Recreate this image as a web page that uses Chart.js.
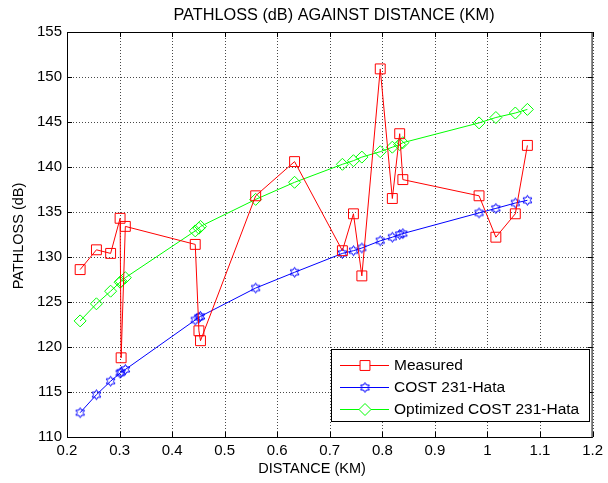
<!DOCTYPE html>
<html>
<head>
<meta charset="utf-8">
<script src="https://cdn.jsdelivr.net/npm/chart.js@4/dist/chart.umd.min.js"></script>
<style>
html,body{margin:0;padding:0;background:#fff;}
#wrap{width:608px;height:483px;position:relative;}
</style>
</head>
<body>
<div id="wrap"><canvas id="c" width="608" height="483"></canvas></div>
<script>
// ---- data ----
const distanceKm = [0.225, 0.256, 0.283, 0.301, 0.303, 0.311, 0.444, 0.451, 0.454, 0.559, 0.633, 0.724, 0.745, 0.761, 0.796, 0.819, 0.833, 0.839, 0.984, 1.016, 1.053, 1.076];
const measured = [128.6, 130.8, 130.4, 134.3, 118.8, 133.4, 131.4, 121.8, 120.7, 136.8, 140.6, 130.7, 134.8, 127.9, 150.9, 136.5, 143.7, 138.6, 136.8, 132.2, 134.8, 142.4];
const cost231Hata = [112.7, 114.7, 116.2, 117.1, 117.2, 117.5, 123.0, 123.3, 123.4, 126.55, 128.3, 130.4, 130.7, 131.0, 131.8, 132.2, 132.5, 132.6, 134.9, 135.4, 136.0, 136.3];
const optimizedCost231Hata = [122.9, 124.8, 126.2, 127.2, 127.3, 127.7, 132.9, 133.2, 133.4, 136.4, 138.3, 140.3, 140.7, 141.1, 141.7, 142.2, 142.5, 142.7, 144.9, 145.5, 146.0, 146.4];
const seriesNames = ["Measured", "COST 231-Hata", "Optimized COST 231-Hata"];
const xTicks = [0.2, 0.3, 0.4, 0.5, 0.6, 0.7, 0.8, 0.9, 1.0, 1.1, 1.2];
const yTicks = [110, 115, 120, 125, 130, 135, 140, 145, 150, 155];
const chartTitle = "PATHLOSS (dB) AGAINST DISTANCE (KM)";
const xTitle = "DISTANCE (KM)";
const yTitle = "PATHLOSS (dB)";

const FONT = "'Liberation Sans', Arial, sans-serif";

function hexagram(color) {
  const cv = document.createElement('canvas');
  cv.width = 13; cv.height = 13;
  const g = cv.getContext('2d');
  const cx = 6.5, cy = 6.5, R = 5, r = R / Math.sqrt(3);
  g.beginPath();
  for (let i = 0; i < 12; i++) {
    const a = -Math.PI / 2 + i * Math.PI / 6;
    const rr = i % 2 === 0 ? R : r;
    const px = cx + rr * Math.cos(a), py = cy + rr * Math.sin(a);
    if (i === 0) g.moveTo(px, py); else g.lineTo(px, py);
  }
  g.closePath();
  g.strokeStyle = color; g.lineWidth = 1; g.stroke();
  return cv;
}
const hexBlue = hexagram('#0000ff');

function pts(ys) { return distanceKm.map((x, i) => ({x: x, y: ys[i]})); }

const styles = [
  {color: '#ff0000', pointStyle: 'rect', radius: 7},
  {color: '#0000ff', pointStyle: hexBlue, radius: 5},
  {color: '#00ff00', pointStyle: 'rectRot', radius: 6}
];
const values = [measured, cost231Hata, optimizedCost231Hata];

const datasets = values.map((v, i) => ({
  label: seriesNames[i],
  data: pts(v),
  showLine: true,
  borderColor: styles[i].color,
  backgroundColor: 'rgba(0,0,0,0)',
  borderWidth: 1,
  pointStyle: styles[i].pointStyle,
  pointRadius: styles[i].radius,
  pointHoverRadius: styles[i].radius,
  pointBorderColor: styles[i].color,
  pointBackgroundColor: 'rgba(0,0,0,0)',
  pointBorderWidth: 1,
  tension: 0
}));

const gridPlugin = {
  id: 'dottedGrid',
  beforeDatasetsDraw(chart) {
    const ctx = chart.ctx;
    const a = chart.chartArea;
    const xs = chart.scales.x, ys = chart.scales.y;
    ctx.save();
    ctx.strokeStyle = 'rgba(40,40,40,0.85)';
    ctx.lineWidth = 1;
    ctx.setLineDash([1, 2]);
    ctx.beginPath();
    xTicks.forEach(t => {
      const px = Math.round(xs.getPixelForValue(t)) + 0.5;
      ctx.moveTo(px, a.top); ctx.lineTo(px, a.bottom);
    });
    yTicks.forEach(t => {
      const py = Math.round(ys.getPixelForValue(t)) + 0.5;
      ctx.moveTo(a.left, py); ctx.lineTo(a.right, py);
    });
    ctx.stroke();
    ctx.restore();
  }
};

const decor = {
  id: 'decor',
  afterDraw(chart) {
    const ctx = chart.ctx;
    const a = chart.chartArea;
    const xs = chart.scales.x, ys = chart.scales.y;
    ctx.save();
    // frame
    ctx.strokeStyle = '#000'; ctx.lineWidth = 1;
    ctx.strokeRect(a.left + 0.5, a.top + 0.5, a.right - a.left - 1, a.bottom - a.top);
    // inward ticks
    ctx.beginPath();
    xTicks.forEach(t => {
      const px = Math.round(xs.getPixelForValue(t)) + 0.5;
      ctx.moveTo(px, a.bottom); ctx.lineTo(px, a.bottom - 5);
      ctx.moveTo(px, a.top); ctx.lineTo(px, a.top + 5);
    });
    yTicks.forEach(t => {
      const py = Math.round(ys.getPixelForValue(t)) + 0.5;
      ctx.moveTo(a.left, py); ctx.lineTo(a.left + 5, py);
      ctx.moveTo(a.right, py); ctx.lineTo(a.right - 5, py);
    });
    ctx.stroke();
    // titles
    ctx.fillStyle = '#000';
    ctx.textAlign = 'center'; ctx.textBaseline = 'middle';
    ctx.font = '16.3px ' + FONT;
    ctx.fillText(chartTitle, 334, 16);
    ctx.font = '14.5px ' + FONT;
    ctx.fillText(xTitle, 312, 469);
    ctx.save();
    ctx.translate(19, 236);
    ctx.rotate(-Math.PI / 2);
    ctx.fillText(yTitle, 0, 0);
    ctx.restore();
    // legend
    const L = 331, T = 349, W = 258, H = 72;
    ctx.fillStyle = '#fff';
    ctx.fillRect(L, T, W, H);
    ctx.strokeStyle = '#000';
    ctx.strokeRect(L + 0.5, T + 0.5, W, H);
    const rowsY = [365, 387, 409];
    ctx.font = '15.5px ' + FONT;
    ctx.textAlign = 'left';
    chart.data.datasets.forEach((ds, i) => {
      const y = rowsY[i];
      ctx.strokeStyle = ds.borderColor; ctx.lineWidth = 1;
      ctx.beginPath(); ctx.moveTo(340, y + 0.5); ctx.lineTo(389, y + 0.5); ctx.stroke();
      ctx.fillStyle = '#fff';
      ctx.strokeStyle = ds.borderColor;
      Chart.helpers.drawPoint(ctx, {pointStyle: ds.pointStyle, radius: ds.pointRadius, borderWidth: 1, rotation: 0}, 365, y + 0.5);
      ctx.fillStyle = '#000';
      ctx.fillText(ds.label, 394, y + 1);
    });
    ctx.restore();
  }
};

new Chart(document.getElementById('c'), {
  type: 'scatter',
  data: {datasets},
  options: {
    responsive: false,
    animation: false,
    events: [],
    layout: {padding: {top: 32, right: 10, left: 0, bottom: 0}},
    plugins: {legend: {display: false}, title: {display: false}, tooltip: {enabled: false}},
    scales: {
      x: {
        type: 'linear', min: 0.2, max: 1.2,
        afterBuildTicks: s => { s.ticks = xTicks.map(v => ({value: v})); },
        afterFit: s => { s.height = 46; },
        grid: {display: false, drawTicks: false},
        border: {display: false},
        ticks: {autoSkip: false, maxRotation: 0, padding: 5, color: '#000',
                font: {family: FONT, size: 15},
                callback: v => String(Math.round(v * 10) / 10)}
      },
      y: {
        type: 'linear', min: 110, max: 155,
        afterBuildTicks: s => { s.ticks = yTicks.map(v => ({value: v})); },
        afterFit: s => { s.width = 67; },
        grid: {display: false, drawTicks: false},
        border: {display: false},
        ticks: {autoSkip: false, padding: 5, color: '#000',
                font: {family: FONT, size: 15},
                callback: v => String(v)}
      }
    }
  },
  plugins: [gridPlugin, decor]
});
</script>
</body>
</html>
